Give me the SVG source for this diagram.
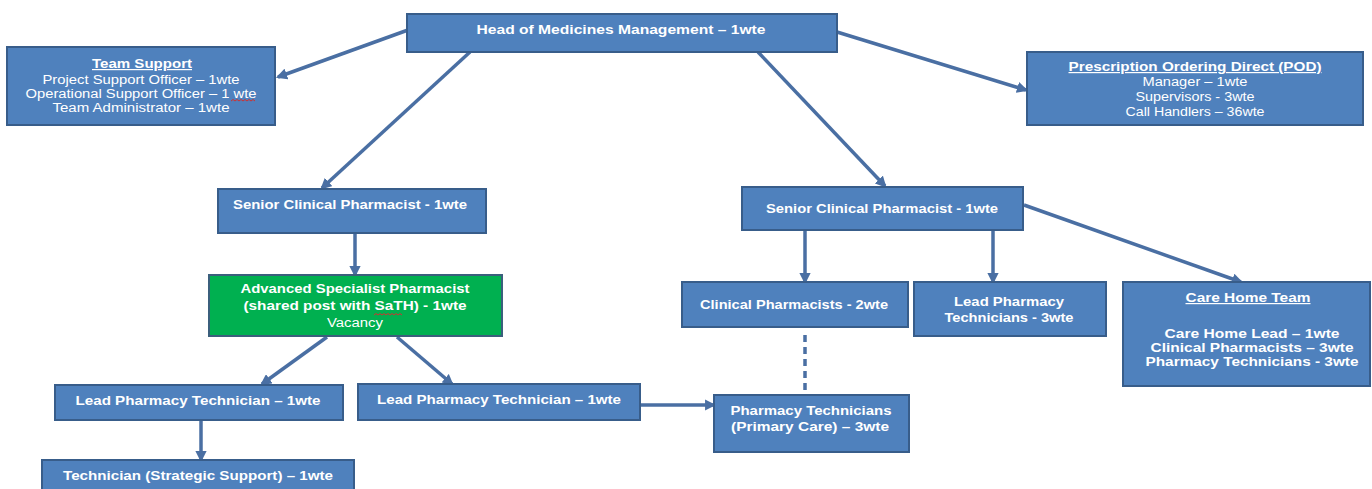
<svg xmlns="http://www.w3.org/2000/svg" width="1372" height="489" viewBox="0 0 1372 489">
<defs>
<style>
.box{fill:#4f81bd;stroke:#385d8a;stroke-width:2}
.green{fill:#00b050;stroke:#3b5f7c;stroke-width:2}
.t{font-family:"Liberation Sans","Open Sans",sans-serif;font-size:12px;fill:#ffffff;text-anchor:middle;font-weight:bold}
.r{font-weight:normal}
.u{text-decoration:underline}
.c{stroke:#4a6fa3;stroke-width:3.5;fill:none}
.d{stroke:#4a6fa3;stroke-width:3.5;fill:none;stroke-dasharray:7 5}
.sq{stroke:#d03030;stroke-width:1;fill:none}
</style>
<marker id="ah" viewBox="0 0 10 10" refX="8" refY="5" markerWidth="3.2" markerHeight="3.2" orient="auto" markerUnits="strokeWidth">
<path d="M0,0 L10,5 L0,10 z" fill="#4a6fa3"/>
</marker>
</defs>
<rect width="1372" height="489" fill="#ffffff"/>
<g id="connectors">
<line class="c" x1="408" y1="30" x2="278" y2="77" marker-end="url(#ah)"/>
<line class="c" x1="470" y1="52" x2="322" y2="188" marker-end="url(#ah)"/>
<line class="c" x1="758" y1="52" x2="885" y2="186" marker-end="url(#ah)"/>
<line class="c" x1="837" y1="32" x2="1026" y2="90" marker-end="url(#ah)"/>
<line class="c" x1="355" y1="234" x2="355" y2="275" marker-end="url(#ah)"/>
<line class="c" x1="327" y1="337" x2="262" y2="384" marker-end="url(#ah)"/>
<line class="c" x1="397" y1="337" x2="452" y2="384" marker-end="url(#ah)"/>
<line class="c" x1="201" y1="421" x2="201" y2="460" marker-end="url(#ah)"/>
<line class="c" x1="641" y1="405" x2="714" y2="405" marker-end="url(#ah)"/>
<line class="c" x1="805" y1="231" x2="805" y2="282" marker-end="url(#ah)"/>
<line class="c" x1="993" y1="231" x2="993" y2="282" marker-end="url(#ah)"/>
<line class="c" x1="1024" y1="205" x2="1241" y2="282" marker-end="url(#ah)"/>
<line class="d" x1="805" y1="335" x2="805" y2="393"/>
</g>
<g id="head">
<rect class="box" x="407" y="14" width="430" height="38"/>
<text class="t" x="621" y="34" textLength="289" lengthAdjust="spacingAndGlyphs">Head of Medicines Management – 1wte</text>
</g>
<g id="team-support">
<rect class="box" x="7" y="47" width="268" height="78"/>
<text class="t u" x="142" y="68" textLength="100" lengthAdjust="spacingAndGlyphs">Team Support</text>
<text class="t r" x="141" y="84" textLength="197" lengthAdjust="spacingAndGlyphs">Project Support Officer – 1wte</text>
<text class="t r" x="141" y="98" textLength="231" lengthAdjust="spacingAndGlyphs">Operational Support Officer – 1 wte</text>
<text class="t r" x="141" y="112" textLength="177" lengthAdjust="spacingAndGlyphs">Team Administrator – 1wte</text>
<path class="sq" d="M231,101 l2,-1.5 l2,1.5 l2,-1.5 l2,1.5 l2,-1.5 l2,1.5 l2,-1.5 l2,1.5 l2,-1.5 l2,1.5 l2,-1.5 l2,1.5"/>
</g>
<g id="pod">
<rect class="box" x="1027" y="52" width="336" height="73"/>
<text class="t u" x="1195" y="71" textLength="253" lengthAdjust="spacingAndGlyphs">Prescription Ordering Direct (POD)</text>
<text class="t r" x="1195" y="86" textLength="105" lengthAdjust="spacingAndGlyphs">Manager – 1wte</text>
<text class="t r" x="1195" y="101" textLength="119" lengthAdjust="spacingAndGlyphs">Supervisors - 3wte</text>
<text class="t r" x="1195" y="116" textLength="139" lengthAdjust="spacingAndGlyphs">Call Handlers – 36wte</text>
</g>
<g id="senior-left">
<rect class="box" x="218" y="189" width="268" height="44"/>
<text class="t" x="350" y="209" textLength="234" lengthAdjust="spacingAndGlyphs">Senior Clinical Pharmacist - 1wte</text>
</g>
<g id="senior-right">
<rect class="box" x="742" y="187" width="281" height="43"/>
<text class="t" x="882" y="213" textLength="232" lengthAdjust="spacingAndGlyphs">Senior Clinical Pharmacist - 1wte</text>
</g>
<g id="advanced-specialist">
<rect class="green" x="209" y="275" width="293" height="61"/>
<text class="t" x="355" y="293" textLength="229" lengthAdjust="spacingAndGlyphs">Advanced Specialist Pharmacist</text>
<text class="t" x="355" y="310" textLength="223" lengthAdjust="spacingAndGlyphs">(shared post with SaTH) - 1wte</text>
<text class="t r" x="355" y="327" textLength="56" lengthAdjust="spacingAndGlyphs">Vacancy</text>
<path class="sq" d="M374,315 l2,-1.5 l2,1.5 l2,-1.5 l2,1.5 l2,-1.5 l2,1.5 l2,-1.5 l2,1.5 l2,-1.5 l2,1.5 l2,-1.5 l2,1.5 l2,-1.5 l2,1.5"/>
</g>
<g id="clinical-pharmacists">
<rect class="box" x="682" y="282" width="226" height="45"/>
<text class="t" x="794" y="309" textLength="188" lengthAdjust="spacingAndGlyphs">Clinical Pharmacists - 2wte</text>
</g>
<g id="lead-pharmacy-technicians">
<rect class="box" x="914" y="282" width="192" height="54"/>
<text class="t" x="1009" y="306" textLength="110" lengthAdjust="spacingAndGlyphs">Lead Pharmacy</text>
<text class="t" x="1009" y="322" textLength="129" lengthAdjust="spacingAndGlyphs">Technicians - 3wte</text>
</g>
<g id="care-home-team">
<rect class="box" x="1123" y="282" width="247" height="104"/>
<text class="t u" x="1248" y="302" textLength="125" lengthAdjust="spacingAndGlyphs">Care Home Team</text>
<text class="t" x="1252" y="338" textLength="175" lengthAdjust="spacingAndGlyphs">Care Home Lead – 1wte</text>
<text class="t" x="1252" y="352" textLength="203" lengthAdjust="spacingAndGlyphs">Clinical Pharmacists – 3wte</text>
<text class="t" x="1252" y="366" textLength="213" lengthAdjust="spacingAndGlyphs">Pharmacy Technicians - 3wte</text>
</g>
<g id="lead-tech-left">
<rect class="box" x="55" y="385" width="288" height="35"/>
<text class="t" x="198" y="405" textLength="245" lengthAdjust="spacingAndGlyphs">Lead Pharmacy Technician – 1wte</text>
</g>
<g id="lead-tech-middle">
<rect class="box" x="358" y="384" width="282" height="36"/>
<text class="t" x="499" y="404" textLength="244" lengthAdjust="spacingAndGlyphs">Lead Pharmacy Technician – 1wte</text>
</g>
<g id="pharmacy-technicians-primary">
<rect class="box" x="714" y="395" width="195" height="57"/>
<text class="t" x="811" y="415" textLength="161" lengthAdjust="spacingAndGlyphs">Pharmacy Technicians</text>
<text class="t" x="810" y="431" textLength="158" lengthAdjust="spacingAndGlyphs">(Primary Care) – 3wte</text>
</g>
<g id="technician-strategic">
<rect class="box" x="42" y="460" width="312" height="40"/>
<text class="t" x="198" y="480" textLength="270" lengthAdjust="spacingAndGlyphs">Technician (Strategic Support) – 1wte</text>
</g>
</svg>
